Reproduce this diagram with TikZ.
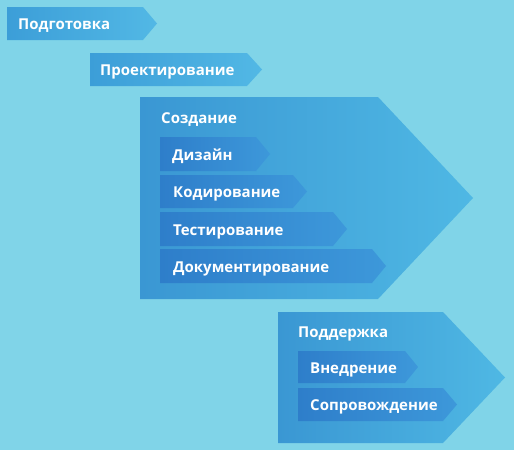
\documentclass[tikz,border=0pt]{standalone}
\usepackage{fontspec}
\setmainfont{Open Sans}
\definecolor{bg}{HTML}{80D4E8}
\definecolor{topL}{HTML}{3C9ED8}
\definecolor{topR}{HTML}{52B8E5}
\definecolor{bigL}{HTML}{3A97D3}
\definecolor{bigR}{HTML}{4FB8E4}
\definecolor{subL}{HTML}{2E7ECA}
\definecolor{subR}{HTML}{3D98DA}
\tikzset{
  toparrow/.style={left color=topL, right color=topR, draw=none},
  bigarrow/.style={left color=bigL, right color=bigR, draw=none},
  subarrow/.style={left color=subL, right color=subR, draw=none},
  lbl/.style={anchor=base west, text=white, font=\bfseries\fontsize{15}{17}\selectfont, inner sep=0pt}
}
\begin{document}
\begin{tikzpicture}[x=1pt,y=-1pt]
\fill[bg] (0,0) rectangle (514,450);
\useasboundingbox (0,0) rectangle (514,450);
% top arrows
\path[toparrow] (7,7) -- (143,7) -- (157,23.5) -- (143,40) -- (7,40) -- cycle;
\node[lbl] (podg) at (18,29.5) {Подготовка};
\path[toparrow] (90,53) -- (247,53) -- (262,69.5) -- (247,86) -- (90,86) -- cycle;
\node[lbl] (proekt) at (100,75.5) {Проектирование};
% Создание
\path[bigarrow] (140,97) -- (378,97) -- (473,198) -- (378,299) -- (140,299) -- cycle;
\node[lbl] (sozd) at (161,123.5) {Создание};
\path[subarrow] (160,137) -- (256,137) -- (270,154) -- (256,171) -- (160,171) -- cycle;
\node[lbl] (diz) at (172,160) {Дизайн};
\path[subarrow] (160,175) -- (293,175) -- (307,191.5) -- (293,208) -- (160,208) -- cycle;
\node[lbl] (kod) at (173,197.5) {Кодирование};
\path[subarrow] (160,212) -- (333,212) -- (347,229) -- (333,246) -- (160,246) -- cycle;
\node[lbl] (test) at (173,235) {Тестирование};
\path[subarrow] (160,249) -- (372,249) -- (386,266) -- (372,283) -- (160,283) -- cycle;
\node[lbl] (dok) at (173,272) {Документирование};
% Поддержка
\path[bigarrow] (278,312) -- (443,312) -- (505,377.5) -- (443,443) -- (278,443) -- cycle;
\node[lbl] (podd) at (298,337.5) {Поддержка};
\path[subarrow] (298,351) -- (405,351) -- (418,367) -- (405,383) -- (298,383) -- cycle;
\node[lbl] (vnedr) at (310,373) {Внедрение};
\path[subarrow] (298,388) -- (443,388) -- (457,404.5) -- (443,421) -- (298,421) -- cycle;
\node[lbl] (sopr) at (310,410.5) {Сопровождение};
\end{tikzpicture}
\end{document}
